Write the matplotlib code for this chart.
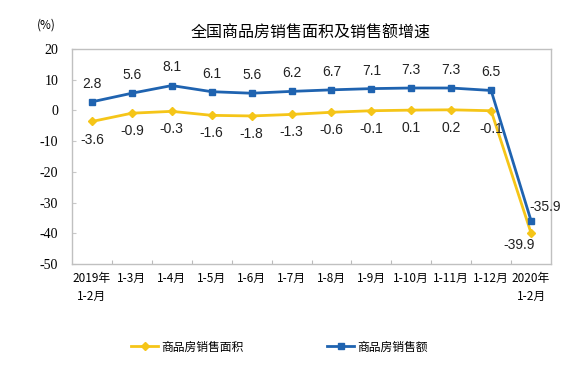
import matplotlib
matplotlib.use("Agg")
import matplotlib.pyplot as plt

plt.rcParams['font.family'] = ['Noto Sans CJK SC', 'DejaVu Sans']

categories = ["2019年\n1-2月", "1-3月", "1-4月", "1-5月", "1-6月", "1-7月", "1-8月",
              "1-9月", "1-10月", "1-11月", "1-12月", "2020年\n1-2月"]
area = [-3.6, -0.9, -0.3, -1.6, -1.8, -1.3, -0.6, -0.1, 0.1, 0.2, -0.1, -39.9]
sales = [2.8, 5.6, 8.1, 6.1, 5.6, 6.2, 6.7, 7.1, 7.3, 7.3, 6.5, -35.9]
yticks = [20, 10, 0, -10, -20, -30, -40, -50]

blue = "#1F63B0"
yellow = "#F5C518"

fig = plt.figure(figsize=(5.78, 3.65), dpi=100)
ax = fig.add_axes([72/578, 1-264/365, (551-72)/578, (264-49)/365])
x = list(range(len(categories)))
l1, = ax.plot(x, area, color=yellow, lw=2, marker="D", ms=4.5, label="商品房销售面积")
l2, = ax.plot(x, sales, color=blue, lw=2, marker="s", ms=4.5, label="商品房销售额")

lab_font = dict(fontsize=10, family=['Liberation Sans', 'DejaVu Sans'], color="#222222")
for i, (a, s) in enumerate(zip(area, sales)):
    if i == len(categories) - 1:
        ax.annotate(f"{s:.1f}", (i, s), xytext=(-1.5, 10), textcoords="offset points",
                    ha="left", va="center", **lab_font)
        ax.annotate(f"{a:.1f}", (i, a), xytext=(-8.5, -9), textcoords="offset points",
                    ha="center", va="center", **lab_font)
    else:
        ax.annotate(f"{s:.1f}", (i, s), xytext=(0, 13), textcoords="offset points",
                    ha="center", va="center", **lab_font)
        ax.annotate(f"{a:.1f}", (i, a), xytext=(0, -13), textcoords="offset points",
                    ha="center", va="center", **lab_font)

ax.set_xlim(-0.5, len(categories) - 0.5)
ax.set_ylim(-50, 20)
ax.set_yticks(yticks)
ax.set_yticklabels([str(v) for v in yticks], fontsize=10,
                   family=['Liberation Serif', 'DejaVu Serif'])
ax.tick_params(axis='y', length=3, direction='in', color="#C8C8C8", pad=10)
ax.set_xticks([i + 0.5 for i in range(len(categories) - 1)], minor=False)
ax.set_xticklabels([])
ax.set_xticks(x, minor=True)
ax.set_xticklabels(categories, minor=True, fontsize=8.5)
ax.tick_params(axis='x', which='major', direction='in', length=3, color="#BBBBBB")
ax.tick_params(axis='x', which='minor', length=0, pad=6)
for t in ax.get_xticklabels(minor=True):
    t.set_linespacing(1.45)
for sp in ax.spines.values():
    sp.set_color("#C0C0C0")
    sp.set_linewidth(1)

fig.text(311/578, 1-33/365, "全国商品房销售面积及销售额增速", ha="center", va="center", fontsize=11.5)
fig.text(46/578, 1-25/365, "(%)", ha="center", va="center", fontsize=8.5)

leg_kw = dict(frameon=False, fontsize=8.5, handlelength=2.3, handletextpad=0.3,
              borderpad=0, borderaxespad=0)
fig.legend(handles=[l1], loc="center left", bbox_to_anchor=(131/578, 1-347/365), **leg_kw)
fig.legend(handles=[l2], loc="center left", bbox_to_anchor=(327/578, 1-347/365), **leg_kw)

fig.savefig("out.png", dpi=100, facecolor="white")
